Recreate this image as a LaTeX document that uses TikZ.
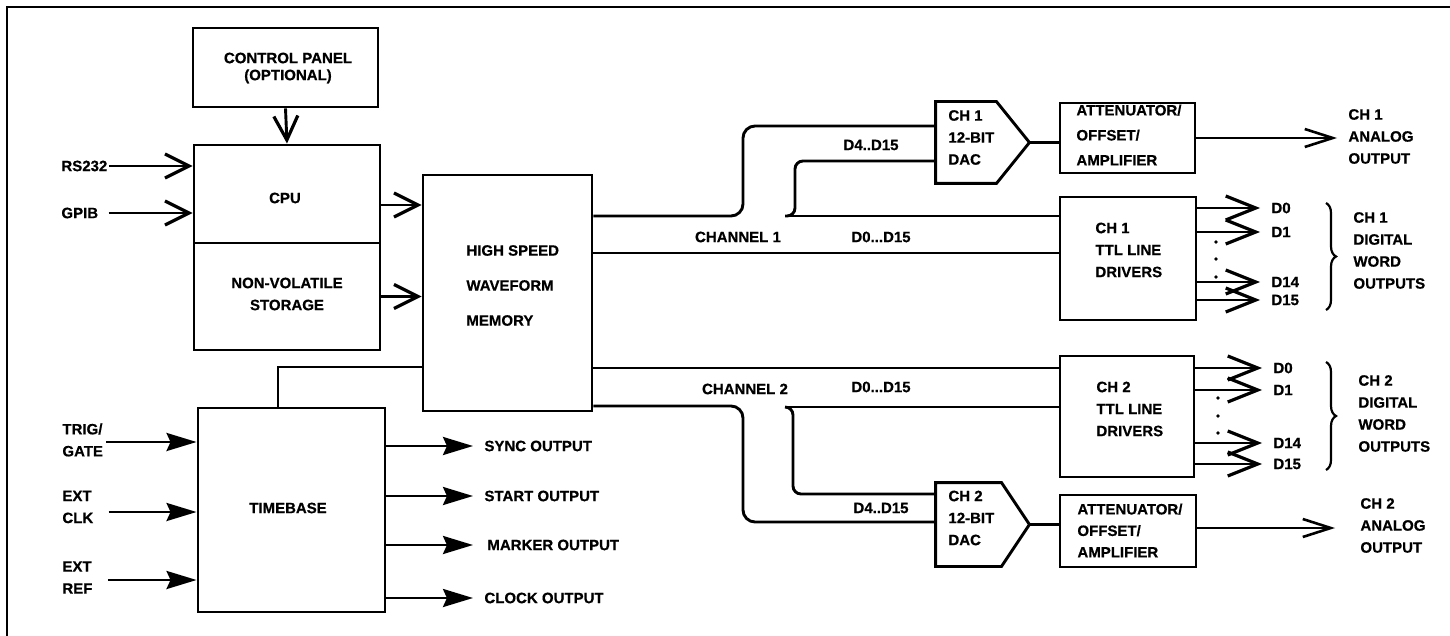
\documentclass[tikz,border=0pt]{standalone}
\usepackage{fontspec}
\setmainfont{Liberation Sans}[BoldFeatures={FakeBold=0.6}]
\usetikzlibrary{arrows.meta,decorations.pathreplacing}
\begin{document}
\begin{tikzpicture}[x=1pt,y=-1pt,line width=2.9pt,
  box/.style={draw,line width=2.9pt,inner sep=0pt},
  dacbox/.style={inner sep=0pt,minimum width=91pt,minimum height=79pt},
  txt/.style={inner sep=0pt,font=\fontsize{15}{22}\selectfont\bfseries,align=left},
  barb/.style={-{Straight Barb[length=24pt,width=24pt,line width=3.2pt]}},
  bigbarb/.style={-{Straight Barb[length=30pt,width=24pt,line width=3.2pt]}},
  thinbarb/.style={line width=2.2pt,-{Straight Barb[length=28pt,width=18pt,line width=2.6pt]}},
  tri/.style={-{Stealth[length=30pt,width=18pt,inset=4pt]}},
  dot/.style={circle,fill,inner sep=0pt,minimum size=3.8pt},
  brc/.style={decorate,decoration={brace,amplitude=10pt},line width=2.2pt}]
\useasboundingbox (0,0) rectangle (1450,636);
% frame
\draw[line width=2.6pt] (7,636) -- (7,7) -- (1450,7);

% left blocks
\node[box,minimum width=185pt,minimum height=79pt] (cp) at (285.5,67.5) {};
\node[txt,align=center,font=\fontsize{15}{17}\selectfont\bfseries] (cpt) at (288,68) {CONTROL PANEL\\(OPTIONAL)};
\node[box,minimum width=186pt,minimum height=98pt] (cpu) at (287,194) {};
\node[txt] (cput) at (285,198) {CPU};
\node[box,minimum width=186pt,minimum height=107pt] (nvs) at (287,296.5) {};
\node[txt,align=center] (nvst) at (287,294) {NON-VOLATILE\\STORAGE};
\node[box,minimum width=169pt,minimum height=236pt] (mem) at (507.5,293) {};
\node[txt,anchor=west,font=\fontsize{15}{35}\selectfont\bfseries] (memt) at (465,285.5) {HIGH SPEED\\WAVEFORM\\MEMORY};
\node[box,minimum width=187pt,minimum height=204pt] (tb) at (291.5,510) {};
\node[txt] (tbt) at (288,508) {TIMEBASE};

% CPU inputs and outputs
\draw[barb] (cp.south) -- (cpu.north);
\node[txt,anchor=west] (rs) at (60,166) {RS232};
\draw[barb] (rs.east) -- (rs.east -| cpu.west);
\node[txt,anchor=west] (gpib) at (60,213) {GPIB};
\draw[barb] ([xshift=9pt]gpib.east) -- (gpib.east -| cpu.west);
\draw[barb] ([yshift=-11pt]cpu.east) -- ([yshift=-11pt]cpu.east -| mem.west);
\draw[barb] (nvs.east) -- (nvs.east -| mem.west);

% timebase
\draw ([xshift=-13.5pt]tb.north) |- (mem.west |- 0,367);
\node[txt,anchor=west] (trig) at (61,440) {TRIG/\\GATE};
\draw[tri] ([shift={(2pt,-2pt)}]trig.east) -- ([yshift=-2pt]trig.east -| tb.west);
\node[txt,anchor=west] (clk) at (61,507) {EXT\\CLK};
\draw[tri] ([shift={(14pt,-5pt)}]clk.east) -- ([yshift=-5pt]clk.east -| tb.west);
\node[txt,anchor=west] (ref) at (61,577.5) {EXT\\REF};
\draw[tri] ([shift={(14pt,-2.5pt)}]ref.east) -- ([yshift=-2.5pt]ref.east -| tb.west);
\foreach \y/\t/\n/\x in {446/SYNC OUTPUT/so/483, 496/START OUTPUT/sto/483, 545/MARKER OUTPUT/mo/486, 598/CLOCK OUTPUT/co/483}{
  \node[txt,anchor=west] (\n) at (\x,\y) {\t};
  \draw[tri] (tb.east |- \n.west) -- ([xshift=-10pt]\n.west -| 483,0);
}

% channel 1
\node[dacbox] (dac1) at (982.5,142.5) {};
\draw[line join=miter] (dac1.north west) -- ([xshift=-33pt]dac1.north east) -- (dac1.east) -- ([xshift=-33pt]dac1.south east) -- (dac1.south west) -- cycle;
\node[txt,anchor=west] (dac1t) at (947,137.5) {CH 1\\12-BIT\\DAC};
\node[box,minimum width=135pt,minimum height=70pt] (att1) at (1127.5,138) {};
\node[txt,anchor=west,font=\fontsize{15}{25}\selectfont\bfseries] (att1t) at (1075,135) {ATTENUATOR/\\OFFSET/\\AMPLIFIER};
\node[box,minimum width=136pt,minimum height=123pt] (ttl1) at (1128,258.5) {};
\node[txt,anchor=west] (ttl1t) at (1094,250) {CH 1\\TTL LINE\\DRIVERS};
\draw[rounded corners=12pt] (mem.east |- 0,216) -- (743,216) -- (743,126) -- (dac1.west |- 0,126);
\coordinate (tap1) at (785,216);
\draw (tap1) -- (ttl1.west |- tap1);
\draw[rounded corners=8pt] (dac1.west |- 0,161) -- (795,161) -- (795,216) -- (tap1);
\draw (mem.east |- 0,253) -- (ttl1.west |- 0,253);
\node[txt] (l1a) at (871,145) {D4..D15};
\node[txt] (l1b) at (738,237) {CHANNEL 1};
\node[txt] (l1c) at (881,237) {D0...D15};
\draw (dac1.east) -- (dac1.east -| att1.west);
\coordinate (ao1) at (1337,138);
\draw[thinbarb] (att1.east) -- (ao1);
\node[txt,anchor=west] (ao1t) at (1347,136.5) {CH 1\\ANALOG\\OUTPUT};
\foreach \y/\l/\n in {208/D0/a, 232/D1/b, 282/D14/c, 300/D15/d}{
  \node[txt,anchor=west] (t1\n) at (1270,\y) {\l};
  \draw[bigbarb] (ttl1.east |- t1\n.west) -- ([xshift=-10pt]t1\n.west -| 1270,0);
}
\node[dot] (p1a) at (1216,242) {};
\node[dot] (p1b) at (1216,259) {};
\node[dot] (p1c) at (1216,277) {};
\draw[brc] (1326,203) -- (1326,310);
\node[txt,anchor=west] (dw1) at (1352,250.5) {CH 1\\DIGITAL\\WORD\\OUTPUTS};

% channel 2
\node[box,minimum width=134pt,minimum height=121pt] (ttl2) at (1127,416.5) {};
\node[txt,anchor=west] (ttl2t) at (1095,409) {CH 2\\TTL LINE\\DRIVERS};
\node[dacbox,minimum height=81pt] (dac2) at (982.5,524.5) {};
\draw[line join=miter] (dac2.north west) -- ([xshift=-28pt]dac2.north east) -- (dac2.east) -- ([xshift=-28pt]dac2.south east) -- (dac2.south west) -- cycle;
\node[txt,anchor=west] (dac2t) at (947,518) {CH 2\\12-BIT\\DAC};
\node[box,minimum width=136pt,minimum height=72pt] (att2) at (1128,531) {};
\node[txt,anchor=west,font=\fontsize{15}{21.5}\selectfont\bfseries] (att2t) at (1076,530.5) {ATTENUATOR/\\OFFSET/\\AMPLIFIER};
\draw (mem.east |- 0,368) -- (ttl2.west |- 0,368);
\draw[rounded corners=12pt] (mem.east |- 0,406) -- (743,406) -- (743,522) -- (dac2.west |- 0,522);
\coordinate (tap2) at (785,407);
\draw (tap2) -- (ttl2.west |- tap2);
\draw[rounded corners=8pt] (tap2) -- (793,407) -- (793,494) -- (dac2.west |- 0,494);
\node[txt] (l2a) at (745,389) {CHANNEL 2};
\node[txt] (l2b) at (881,387) {D0...D15};
\node[txt] (l2c) at (881,508) {D4..D15};
\draw (dac2.east) -- (dac2.east -| att2.west);
\coordinate (ao2) at (1335,528);
\draw[thinbarb] ([yshift=3pt]att2.east) -- (ao2);
\node[txt,anchor=west] (ao2t) at (1359,525.5) {CH 2\\ANALOG\\OUTPUT};
\foreach \y/\l/\n in {368/D0/a, 390/D1/b, 443/D14/c, 464/D15/d}{
  \node[txt,anchor=west] (t2\n) at (1272,\y) {\l};
  \draw[bigbarb] (ttl2.east |- t2\n.west) -- ([xshift=-10pt]t2\n.west -| 1272,0);
}
\node[dot] (p2a) at (1218,398) {};
\node[dot] (p2b) at (1218,416) {};
\node[dot] (p2c) at (1218,433) {};
\draw[brc] (1326,362) -- (1326,470);
\node[txt,anchor=west] (dw2) at (1357,413.5) {CH 2\\DIGITAL\\WORD\\OUTPUTS};
\end{tikzpicture}
\end{document}
